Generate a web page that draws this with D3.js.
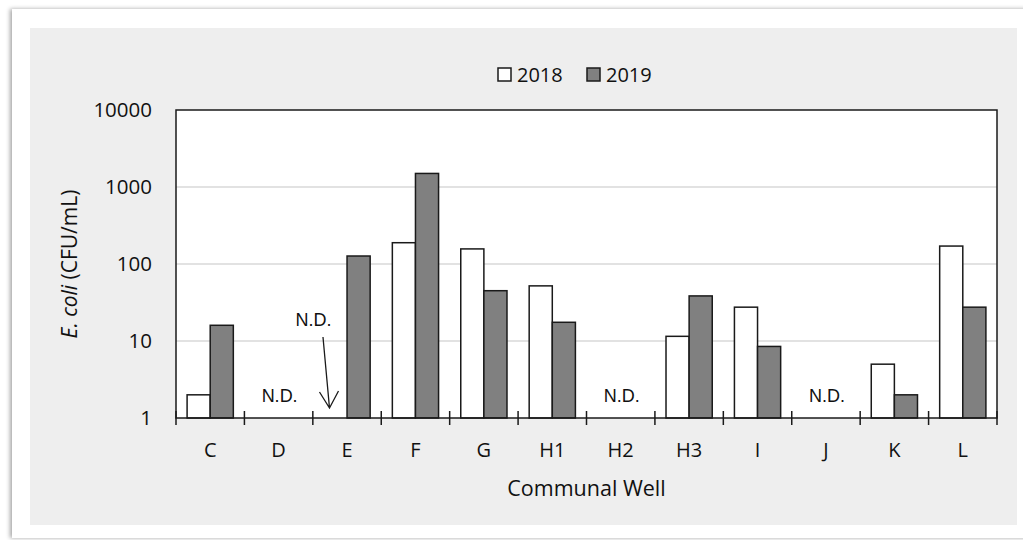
<!DOCTYPE html>
<html>
<head>
<meta charset="utf-8">
<script src="https://cdn.jsdelivr.net/npm/d3@7"></script>
<style>
  body { margin: 0; background: #fff; }
  svg { display: block; font-family: "Open Sans", sans-serif; }
</style>
</head>
<body>
<div id="chart"></div>
<script>
// Data
var wells = ["C", "D", "E", "F", "G", "H1", "H2", "H3", "I", "J", "K", "L"];
var years = ["2018", "2019"];
var values2018 = [2, null, null, 189, 157, 52, null, 11.5, 27.5, null, 5, 171];
var values2019 = [16, null, 127, 1500, 45, 17.5, null, 38.5, 8.5, null, 2, 27.5];
var yTicks = [1, 10, 100, 1000, 10000];
var ndWells = ["D", "H2", "J"];   // not detected in both years
var ndArrowWell = "E";            // not detected in 2018 only

var W = 1023, H = 540;
var margin = {top: 110, right: 26, bottom: 122, left: 176},
    w = 997 - margin.left,
    h = 418 - margin.top;

var svg = d3.select("#chart").append("svg")
  .attr("width", W)
  .attr("height", H);

// page frame with shadow + grey chart panel
var defs = svg.append("defs");
var f = defs.append("filter").attr("id", "shadow")
  .attr("x", "-5%").attr("y", "-5%").attr("width", "110%").attr("height", "110%");
f.append("feDropShadow").attr("dx", -2).attr("dy", 0).attr("stdDeviation", 2)
  .attr("flood-color", "#000").attr("flood-opacity", 0.35);

svg.append("rect")
  .attr("x", 12).attr("y", 9).attr("width", 1030).attr("height", 529)
  .attr("fill", "#fff").attr("filter", "url(#shadow)");
svg.append("rect")
  .attr("x", 30).attr("y", 28).attr("width", 987).attr("height", 497)
  .attr("fill", "#eeeeee");

var g = svg.append("g")
  .attr("transform", "translate(" + margin.left + "," + margin.top + ")");

var x = d3.scaleBand().domain(wells).range([0, w]).padding(0);
var x1 = d3.scaleBand().domain(years).range([0, x.bandwidth()])
  .paddingInner(0).paddingOuter(0.48);
var y = d3.scaleLog().domain([1, 10000]).range([h, 0]);

g.append("rect")
  .attr("width", w).attr("height", h).attr("fill", "#fff");

// gridlines
g.selectAll(".grid")
  .data(yTicks.slice(1, -1))
  .enter().append("line")
  .attr("x1", 0).attr("x2", w)
  .attr("y1", d => y(d)).attr("y2", d => y(d))
  .attr("stroke", "#d9d9d9").attr("stroke-width", 1.5);

// bars
var rows = wells.map(function(wl, i) {
  return {well: wl, vals: [
    {year: "2018", v: values2018[i]},
    {year: "2019", v: values2019[i]}
  ]};
});

var groups = g.selectAll(".grp")
  .data(rows)
  .enter().append("g")
  .attr("transform", d => "translate(" + x(d.well) + ",0)");

groups.selectAll("rect")
  .data(d => d.vals.filter(v => v.v != null))
  .enter().append("rect")
  .attr("x", d => x1(d.year))
  .attr("y", d => y(d.v))
  .attr("width", x1.bandwidth())
  .attr("height", d => h - y(d.v))
  .attr("fill", d => d.year === "2018" ? "#ffffff" : "#808080")
  .attr("stroke", "#1a1a1a")
  .attr("stroke-width", 1.5);

// plot border
g.append("rect")
  .attr("width", w).attr("height", h)
  .attr("fill", "none").attr("stroke", "#1a1a1a").attr("stroke-width", 1.5);

// x axis: ticks at category boundaries, crossing the axis line
var xAxis = g.append("g").attr("transform", "translate(0," + h + ")");
xAxis.selectAll("line")
  .data(d3.range(wells.length + 1))
  .enter().append("line")
  .attr("x1", d => d * x.step()).attr("x2", d => d * x.step())
  .attr("y1", -7).attr("y2", 7)
  .attr("stroke", "#1a1a1a").attr("stroke-width", 1.5);
xAxis.selectAll("text")
  .data(wells)
  .enter().append("text")
  .attr("x", d => x(d) + x.bandwidth() / 2)
  .attr("y", 39)
  .attr("text-anchor", "middle")
  .attr("font-size", 20)
  .attr("fill", "#111")
  .text(d => d);

// y axis labels
g.selectAll(".ylab")
  .data(yTicks)
  .enter().append("text")
  .attr("x", -24)
  .attr("y", d => y(d))
  .attr("dy", "0.35em")
  .attr("text-anchor", "end")
  .attr("font-size", 20.5)
  .attr("fill", "#111")
  .text(d => d);

// axis titles
g.append("text")
  .attr("x", w / 2)
  .attr("y", h + 78)
  .attr("text-anchor", "middle")
  .attr("font-size", 21.5)
  .attr("fill", "#111")
  .text("Communal Well");

var yt = g.append("text")
  .attr("transform", "translate(-99," + (h / 2) + ") rotate(-90)")
  .attr("text-anchor", "middle")
  .attr("font-size", 21)
  .attr("fill", "#111");
yt.append("tspan").attr("font-style", "italic").text("E. coli");
yt.append("tspan").text(" (CFU/mL)");

// N.D. labels
g.selectAll(".nd")
  .data(ndWells)
  .enter().append("text")
  .attr("x", d => x(d) + x.bandwidth() / 2 + 1)
  .attr("y", h - 16)
  .attr("text-anchor", "middle")
  .attr("font-family", "Liberation Sans, Arial, sans-serif")
  .attr("font-size", 18)
  .attr("fill", "#111")
  .text("N.D.");

// N.D. with arrow for E 2018
var ax = x(ndArrowWell) + x1("2018") + x1.bandwidth() / 2;
g.append("text")
  .attr("x", ax - 22)
  .attr("y", y(10) - 15)
  .attr("text-anchor", "middle")
  .attr("font-family", "Liberation Sans, Arial, sans-serif")
  .attr("font-size", 18)
  .attr("fill", "#111")
  .text("N.D.");
var tipX = ax - 6, tipY = h - 10;
g.append("path")
  .attr("d", "M" + (ax - 12.5) + "," + (y(10) - 4) + "L" + tipX + "," + tipY +
             "M" + (tipX - 10) + "," + (tipY - 16) + "L" + tipX + "," + tipY +
             "L" + (tipX + 9) + "," + (tipY - 17))
  .attr("fill", "none").attr("stroke", "#1a1a1a").attr("stroke-width", 1.3);

// legend
var legend = svg.append("g").attr("transform", "translate(498,68)");
var li = legend.selectAll("g")
  .data(years)
  .enter().append("g")
  .attr("transform", (d, i) => "translate(" + (i * 89) + ",0)");
li.append("rect")
  .attr("width", 13).attr("height", 13)
  .attr("fill", d => d === "2018" ? "#ffffff" : "#808080")
  .attr("stroke", "#1a1a1a").attr("stroke-width", 1.5);
li.append("text")
  .attr("x", 19).attr("y", 7)
  .attr("dy", "0.35em")
  .attr("font-size", 20)
  .attr("fill", "#111")
  .text(d => d);
</script>
</body>
</html>
